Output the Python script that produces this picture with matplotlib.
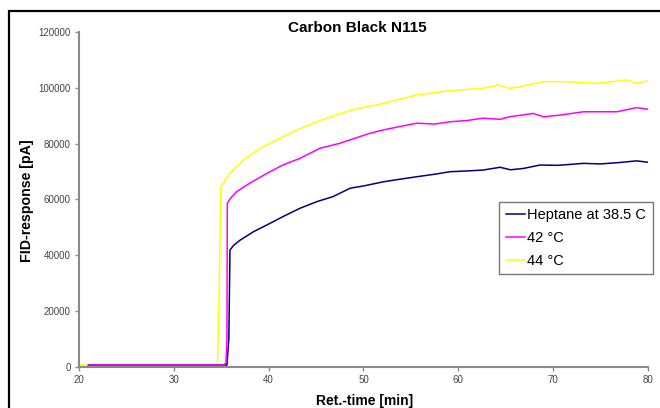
import matplotlib
matplotlib.use("Agg")
import matplotlib.pyplot as plt
from matplotlib.patches import Rectangle

plt.rcParams['font.family'] = ['Liberation Sans', 'DejaVu Sans']

# Data (x in min, y in pA)
heptane_x = [21, 35.6, 35.8, 35.92, 36.3, 37.0, 38.4, 39.8, 41.5, 43.3, 45.1, 46.8, 48.6, 50.0,
             52.1, 53.8, 55.6, 57.5, 59.1, 61.0, 62.6, 64.4, 65.5, 66.9, 68.6, 70.5, 73.2,
             75.0, 77.0, 78.8, 80]
heptane_y = [600, 600, 10000, 41800, 43500, 45400, 48400, 50800, 53800, 56800, 59200, 61000,
             64000, 64800, 66300, 67200, 68100, 69000, 69900, 70200, 70500, 71500, 70600,
             71100, 72300, 72200, 72900, 72700, 73200, 73800, 73300]

t42_x = [21, 35.3, 35.5, 35.6, 35.64, 36.0, 36.6, 38.0, 39.8, 41.5, 43.3, 45.4, 47.5, 49.1,
         50.5, 52.1, 55.6, 57.5, 59.1, 61.0, 62.6, 64.4, 65.4, 67.9, 69.0, 70.7, 73.2, 76.7,
         78.8, 80]
t42_y = [600, 600, 1500, 10000, 58600, 60500, 62700, 65800, 69300, 72300, 74700, 78300, 80100,
         81900, 83500, 84900, 87300, 87000, 87800, 88300, 89100, 88700, 89600, 90800, 89600,
         90200, 91400, 91400, 92900, 92300]

t44_x = [20, 34.6, 34.8, 34.95, 35.9, 37.33, 39.09, 40.85, 42.6, 44.7, 46.1, 48.2, 49.5, 52.1,
         55.6, 59.1, 62.6, 64.2, 65.4, 66.2, 69.0, 71.4, 74.6, 77.8, 78.8, 80]
t44_y = [600, 600, 30000, 64500, 69300, 74100, 78300, 81300, 84300, 87300, 89100, 91400, 92600,
         94400, 97400, 99000, 99800, 101000, 99800, 100200, 102200, 102200, 101600, 102800,
         101600, 102500]

labels = ['Heptane at 38.5 C', '42 °C', '44 °C']
colors = ['#000080', '#FF00FF', '#FFFF00']

x_ticks = [20, 30, 40, 50, 60, 70, 80]
y_ticks = [0, 20000, 40000, 60000, 80000, 100000, 120000]

fig = plt.figure(figsize=(6.6, 4.08), dpi=100)
ax = fig.add_axes([79/660, 1-366.7/408, (648-79)/660, (366.7-32)/408])

ax.plot(t44_x, t44_y, color=colors[2], lw=1.1, label=labels[2], zorder=2)
ax.plot(heptane_x, heptane_y, color=colors[0], lw=1.1, label=labels[0], zorder=3)
ax.plot(t42_x, t42_y, color=colors[1], lw=1.1, label=labels[1], zorder=4)

ax.set_xlim(20, 80)
ax.set_ylim(0, 120000)
ax.set_xticks(x_ticks)
ax.set_yticks(y_ticks)
ax.set_xticklabels([str(v) for v in x_ticks])
ax.set_yticklabels([str(v) for v in y_ticks])

for s in ['top', 'right']:
    ax.spines[s].set_visible(False)
for s in ['left', 'bottom']:
    ax.spines[s].set_color('#8a8a8a')
    ax.spines[s].set_linewidth(1.5)
ax.tick_params(axis='both', direction='out', length=3, width=1, color='#8a8a8a',
               labelsize=7, labelcolor='#444444', pad=3)

ax.set_ylabel('FID-response [pA]', fontsize=10.2, fontweight='bold', va='center')
ax.yaxis.set_label_coords((27-79)/569, (366.7-201)/334.7)
ax.set_xlabel('Ret.-time [min]', fontsize=10, fontweight='bold', va='center')
ax.xaxis.set_label_coords((364.5-79)/569, (366.7-401)/334.7)
fig.text(357.5/660, 1-28/408, 'Carbon Black N115', ha='center', va='center',
         fontsize=11, fontweight='bold')

h, l = ax.get_legend_handles_labels()
order = [1, 2, 0]
leg = ax.legend([h[i] for i in order], [l[i] for i in order],
                loc='upper left', bbox_to_anchor=((499-79)/569, (366.7-201.7)/334.7),
                fontsize=10.5, frameon=True, fancybox=False, edgecolor='#555555',
                handlelength=1.3, handletextpad=0.2, borderpad=0.45, labelspacing=0.6,
                borderaxespad=0)
leg.get_frame().set_linewidth(1.0)

# outer black frame
fig.patches.append(Rectangle((9/660, -0.05), 1.2, 1-11/408+0.05, transform=fig.transFigure,
                             fill=False, edgecolor='black', linewidth=1.6, zorder=10))

fig.savefig('out.png', dpi=100)
